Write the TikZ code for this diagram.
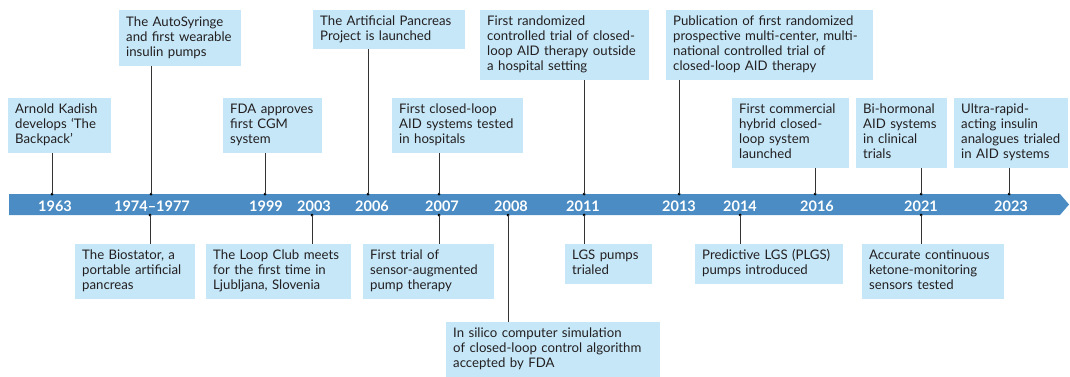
\documentclass[tikz,border=0pt]{standalone}
\usepackage{fontspec}
\setmainfont{Lato}
\usetikzlibrary{positioning}
\definecolor{barblue}{HTML}{4A8CC3}
\definecolor{boxblue}{HTML}{C5E7F8}
\definecolor{ink}{HTML}{231F20}
\newcommand{\evlines}[1]{\begin{tabular}{@{}l@{}}#1\end{tabular}}

\begin{document}
\begin{tikzpicture}[x=1pt, y=-1pt]
    \useasboundingbox (0,0) rectangle (1070,376);

    % Define block styles
    \tikzstyle{event} = [fill=boxblue, anchor=north west, align=left, inner xsep=7pt, inner ysep=0pt, text=ink, font=\fontsize{13.2}{15}\selectfont]
    \tikzstyle{year} = [text=white, inner sep=0pt, font=\fontsize{14.5}{14.5}\selectfont\bfseries]
    \tikzstyle{dot} = [circle, fill=black, inner sep=0pt, minimum size=3pt]
    \tikzstyle{tick} = [draw=black!80, line width=0.9pt]

    % Time bar
    \fill[barblue] (9,194) -- (1060,194) -- (1069,204.5) -- (1060,215) -- (9,215) -- cycle;

    % Years
    \node[year] (y1963) at (55,206) {1963};
    \node[year] (y1974) at (152,206) {1974–1977};
    \node[year] (y1999) at (266,206) {1999};
    \node[year] (y2003) at (314,206) {2003};
    \node[year] (y2006) at (372,206) {2006};
    \node[year] (y2007) at (442,206) {2007};
    \node[year] (y2008) at (511,206) {2008};
    \node[year] (y2011) at (583,206) {2011};
    \node[year] (y2013) at (679,206) {2013};
    \node[year] (y2014) at (740,206) {2014};
    \node[year] (y2016) at (817,206) {2016};
    \node[year] (y2021) at (921,206) {2021};
    \node[year] (y2023) at (1011,206) {2023};

    % Events above the bar
    \node[event, text width=89pt, minimum height=55pt] (kadish) at (8,98) {\evlines{Arnold Kadish\\ develops ‘The\\ Backpack’}};
    \node[event, text width=108pt, minimum height=56pt] (autosyringe) at (119,10) {\evlines{The AutoSyringe\\ and first wearable\\ insulin pumps}};
    \node[event, text width=85pt, minimum height=55pt] (fdacgm) at (223,98) {\evlines{FDA approves\\ first CGM\\ system}};
    \node[event, text width=138pt, minimum height=39pt] (approject) at (313,10) {\evlines{The Artificial Pancreas\\ Project is launched}};
    \node[event, text width=117pt, minimum height=55pt] (hospital) at (392,98) {\evlines{First closed-loop\\ AID systems tested\\ in hospitals}};
    \node[event, text width=155pt, minimum height=70pt] (outside) at (480,10) {\evlines{First randomized\\ controlled trial of closed-\\ loop AID therapy outside\\ a hospital setting}};
    \node[event, text width=193pt, minimum height=70pt] (multicenter) at (666,10) {\evlines{Publication of first randomized\\ prospective multi-center, multi-\\ national controlled trial of\\ closed-loop AID therapy}};
    \node[event, text width=103pt, minimum height=70pt] (hybrid) at (732,98) {\evlines{First commercial\\ hybrid closed-\\ loop system\\ launched}};
    \node[event, text width=77pt, minimum height=70pt] (bihormonal) at (856,98) {\evlines{Bi-hormonal\\ AID systems\\ in clinical\\ trials}};
    \node[event, text width=100pt, minimum height=70pt] (ultrarapid) at (954,98) {\evlines{Ultra-rapid-\\ acting insulin\\ analogues trialed\\ in AID systems}};

    % Events below the bar
    \node[event, text width=106pt, minimum height=55pt] (biostator) at (75,244) {\evlines{The Biostator, a\\ portable artificial\\ pancreas}};
    \node[event, text width=131pt, minimum height=55pt] (loopclub) at (206,244) {\evlines{The Loop Club meets\\ for the first time in\\ Ljubljana, Slovenia}};
    \node[event, text width=117pt, minimum height=55pt] (sap) at (363,244) {\evlines{First trial of\\ sensor-augmented\\ pump therapy}};
    \node[event, text width=200pt, minimum height=55pt] (insilico) at (446,322) {\evlines{In silico computer simulation\\ of closed-loop control algorithm\\ accepted by FDA}};
    \node[event, text width=73pt, minimum height=40pt] (lgs) at (565,244) {\evlines{LGS pumps\\ trialed}};
    \node[event, text width=134pt, minimum height=40pt] (plgs) at (695,244) {\evlines{Predictive LGS (PLGS)\\ pumps introduced}};
    \node[event, text width=128pt, minimum height=55pt] (ketone) at (862,244) {\evlines{Accurate continuous\\ ketone-monitoring\\ sensors tested}};

    % Ticks up
    \node[dot] (u1963) at (52,194) {};
    \node[dot] (u1974) at (151,194) {};
    \node[dot] (u1999) at (265,194) {};
    \node[dot] (u2006) at (368,194) {};
    \node[dot] (u2007) at (439,194) {};
    \node[dot] (u2011) at (584,194) {};
    \node[dot] (u2013) at (679,194) {};
    \node[dot] (u2016) at (815,194) {};
    \node[dot] (u2021) at (921,194) {};
    \node[dot] (u2023) at (1009,194) {};

    \draw[tick] (u1963.center) -- (u1963 |- kadish.south);
    \draw[tick] (u1974.center) -- (u1974 |- autosyringe.south);
    \draw[tick] (u1999.center) -- (u1999 |- fdacgm.south);
    \draw[tick] (u2006.center) -- (u2006 |- approject.south);
    \draw[tick] (u2007.center) -- (u2007 |- hospital.south);
    \draw[tick] (u2011.center) -- (u2011 |- outside.south);
    \draw[tick] (u2013.center) -- (u2013 |- multicenter.south);
    \draw[tick] (u2016.center) -- (u2016 |- hybrid.south);
    \draw[tick] (u2021.center) -- (u2021 |- bihormonal.south);
    \draw[tick] (u2023.center) -- (u2023 |- ultrarapid.south);

    % Ticks down
    \node[dot] (d1974) at (150,215) {};
    \node[dot] (d2003) at (312,215) {};
    \node[dot] (d2007) at (439,215) {};
    \node[dot] (d2008) at (508,215) {};
    \node[dot] (d2011) at (584,215) {};
    \node[dot] (d2014) at (740,215) {};
    \node[dot] (d2021) at (921,215) {};

    \draw[tick] (d1974.center) -- (d1974 |- biostator.north);
    \draw[tick] (d2003.center) -- (d2003 |- loopclub.north);
    \draw[tick] (d2007.center) -- (d2007 |- sap.north);
    \draw[tick] (d2008.center) -- (d2008 |- insilico.north);
    \draw[tick] (d2011.center) -- (d2011 |- lgs.north);
    \draw[tick] (d2014.center) -- (d2014 |- plgs.north);
    \draw[tick] (d2021.center) -- (d2021 |- ketone.north);

\end{tikzpicture}
\end{document}
